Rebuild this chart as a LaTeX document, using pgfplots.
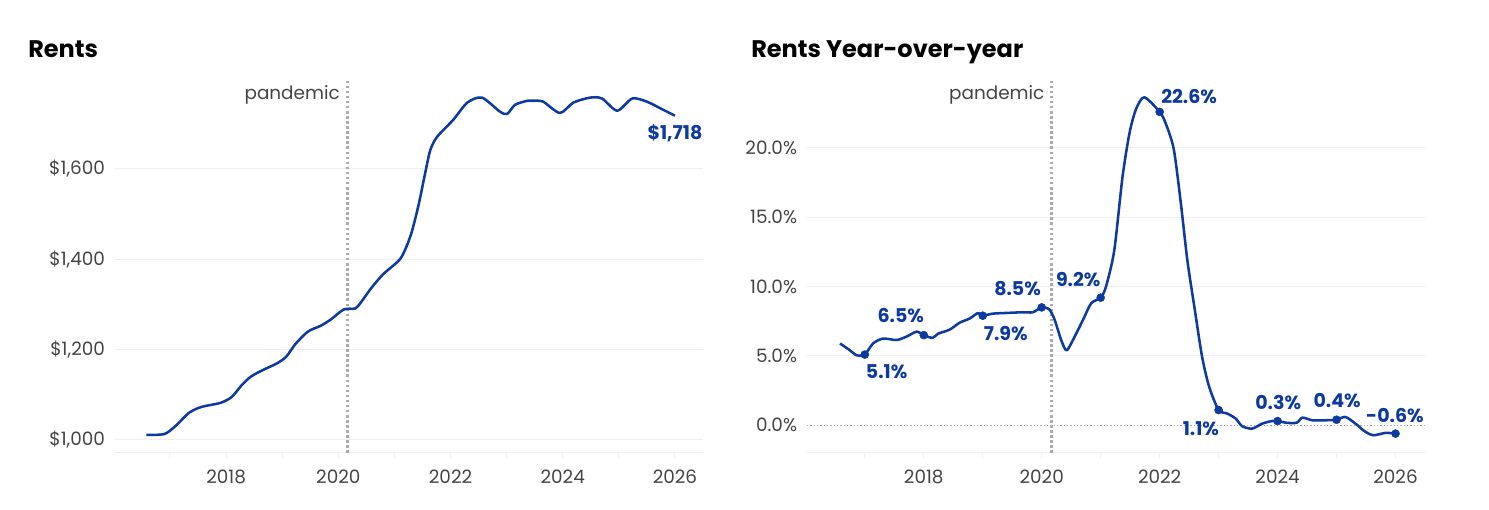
\documentclass[border=0pt]{standalone}
\usepackage{fontspec}
\setmainfont{Poppins}
\usepackage{pgfplots}
\pgfplotsset{compat=1.18}

\definecolor{rentblue}{HTML}{0D3A9E}
\definecolor{ticktext}{HTML}{444444}
\definecolor{gridc}{HTML}{EEEEEE}
\definecolor{pand}{HTML}{AAAAAA}

% shared look of both panels (1px = 0.75pt)
\pgfplotsset{rentpanel/.style={
  scale only axis, height=279.75pt,
  xmin=2016.02, xmax=2026.5,
  axis x line*=bottom, axis y line*=left,
  y axis line style={draw=none},
  x axis line style={draw=gridc, line width=0.75pt},
  xtick={2018,2020,2022,2024,2026},
  xticklabels={2018,2020,2022,2024,2026},
  minor xtick={2017,2019,2021,2023,2025},
  xtick style={draw=gridc, line width=0.75pt},
  ytick style={draw=none},
  major tick length=4pt, minor tick length=4pt,
  tick align=outside,
  ymajorgrids, grid style={draw=gridc, line width=0.75pt},
  tick label style={font=\fontsize{13.8}{16}\selectfont, text=ticktext},
  xticklabel style={yshift=-5pt},
  yticklabel style={xshift=0pt},
  clip=false,
}}
\tikzset{
  lbl/.style={font=\bfseries\fontsize{14.25}{16}\selectfont, text=rentblue, inner sep=0pt},
  pandline/.style={pand, line width=1.9pt, dash pattern=on 1.9pt off 1.9pt},
  pandlbl/.style={font=\fontsize{13.8}{16}\selectfont, text=ticktext, anchor=east, inner sep=0pt},
  rentline/.style={rentblue, line width=1.9pt, line join=round, smooth, tension=0.45},
}

\begin{document}
\begin{tikzpicture}
\useasboundingbox (0,0) rectangle (1116.75pt,382.5pt);

\node[anchor=base west, inner sep=0pt, font=\bfseries\fontsize{18}{20}\selectfont] at (21pt,339pt) {Rents};
\node[anchor=base west, inner sep=0pt, font=\bfseries\fontsize{18}{20}\selectfont] at (563.25pt,339pt) {Rents Year-over-year};

% ---------- left: rents ----------
\begin{axis}[rentpanel,
  at={(86.25pt,42.75pt)}, anchor=south west, width=441pt,
  ymin=971, ymax=1797,
  ytick={1000,1200,1400,1600},
  yticklabels={{\$1,000},{\$1,200},{\$1,400},{\$1,600}},
]
\draw[pandline] (axis cs:2020.16,971) -- (axis cs:2020.16,1797);
\node[pandlbl] at (axis cs:2020.03,1764) {pandemic};
\addplot[rentline] coordinates {
(2016.58,1011) (2016.9,1013) (2017.1,1031) (2017.34,1060) (2017.56,1073)
(2017.9,1082) (2018.1,1095) (2018.27,1120) (2018.44,1140) (2018.66,1155)
(2018.9,1169) (2019.07,1184) (2019.24,1213) (2019.46,1240) (2019.69,1253)
(2019.87,1267) (2020.1,1289) (2020.3,1291) (2020.4,1304) (2020.58,1335)
(2020.8,1367) (2021.11,1402) (2021.29,1453) (2021.43,1520) (2021.56,1598)
(2021.64,1642) (2021.76,1671) (2022.05,1709) (2022.30,1747) (2022.56,1758)
(2022.88,1727) (2023.01,1722) (2023.15,1742) (2023.37,1751) (2023.47,1751)
(2023.65,1749) (2023.95,1724) (2024.19,1747) (2024.49,1758) (2024.70,1756)
(2024.97,1729) (2025.24,1756) (2025.50,1749) (2025.79,1731) (2026.0,1718)
};
\node[lbl] at (axis cs:2026.0,1680) {\$1,718};
\end{axis}

% ---------- right: year over year ----------
\begin{axis}[rentpanel,
  at={(605.25pt,42.75pt)}, anchor=south west, width=463.5pt,
  ymin=-2.0, ymax=24.9,
  ytick={5,10,15,20},
  yticklabels={5.0\%,10.0\%,15.0\%,20.0\%},
  extra y ticks={0}, extra y tick labels={0.0\%},
  extra y tick style={grid=none},
]
\addplot[pand, line width=0.75pt, dash pattern=on 1pt off 1.5pt] coordinates {(2016.02,0) (2026.5,0)};
\draw[pandline] (axis cs:2020.17,-2.0) -- (axis cs:2020.17,24.9);
\node[pandlbl] at (axis cs:2020.05,23.83) {pandemic};
\addplot[rentline] coordinates {
(2016.58,5.9) (2016.75,5.4) (2016.86,5.05) (2017.0,5.1) (2017.14,5.9)
(2017.31,6.25) (2017.54,6.15) (2017.71,6.4) (2017.88,6.75) (2018.0,6.5)
(2018.15,6.3) (2018.24,6.6) (2018.44,6.9) (2018.61,7.4) (2018.78,7.7)
(2018.92,8.1) (2019.0,7.9) (2019.17,8.05) (2019.4,8.1) (2019.68,8.15)
(2019.85,8.15) (2020.0,8.5) (2020.13,8.35) (2020.22,7.6) (2020.33,6.15)
(2020.42,5.4) (2020.53,6.15) (2020.7,7.6) (2020.84,8.8) (2021.0,9.2)
(2021.09,10.0) (2021.23,12.6) (2021.37,17.9) (2021.49,21.1) (2021.6,22.8)
(2021.74,23.65) (2022.0,22.6) (2022.1,21.8) (2022.24,19.9) (2022.36,16.0)
(2022.47,11.9) (2022.59,8.5) (2022.72,4.94) (2022.84,2.77) (2023.0,1.1)
(2023.15,0.84) (2023.29,0.48) (2023.4,-0.07) (2023.57,-0.24) (2023.74,0.12)
(2023.91,0.31) (2024.0,0.3) (2024.17,0.17) (2024.33,0.19) (2024.42,0.55)
(2024.59,0.36) (2024.81,0.36) (2025.0,0.4) (2025.15,0.6) (2025.32,0.12)
(2025.49,-0.48) (2025.63,-0.72) (2025.83,-0.55) (2026.0,-0.6)
};
\addplot[only marks, mark=*, mark size=3pt, rentblue] coordinates {
(2017,5.1) (2018,6.5) (2019,7.9) (2020,8.5) (2021,9.2)
(2022,22.6) (2023,1.1) (2024,0.3) (2025,0.4) (2026,-0.6)
};
\node[lbl] at (axis cs:2017.37,3.90) {5.1\%};
\node[lbl] at (axis cs:2017.61,7.88) {6.5\%};
\node[lbl] at (axis cs:2019.39,6.65) {7.9\%};
\node[lbl] at (axis cs:2019.59,9.83) {8.5\%};
\node[lbl] at (axis cs:2020.62,10.48) {9.2\%};
\node[lbl] at (axis cs:2022.50,23.70) {22.6\%};
\node[lbl] at (axis cs:2022.70,-0.22) {1.1\%};
\node[lbl] at (axis cs:2024.01,1.66) {0.3\%};
\node[lbl] at (axis cs:2025.01,1.81) {0.4\%};
\node[lbl] at (axis cs:2025.99,0.72) {-0.6\%};
\end{axis}
\end{tikzpicture}
\end{document}
